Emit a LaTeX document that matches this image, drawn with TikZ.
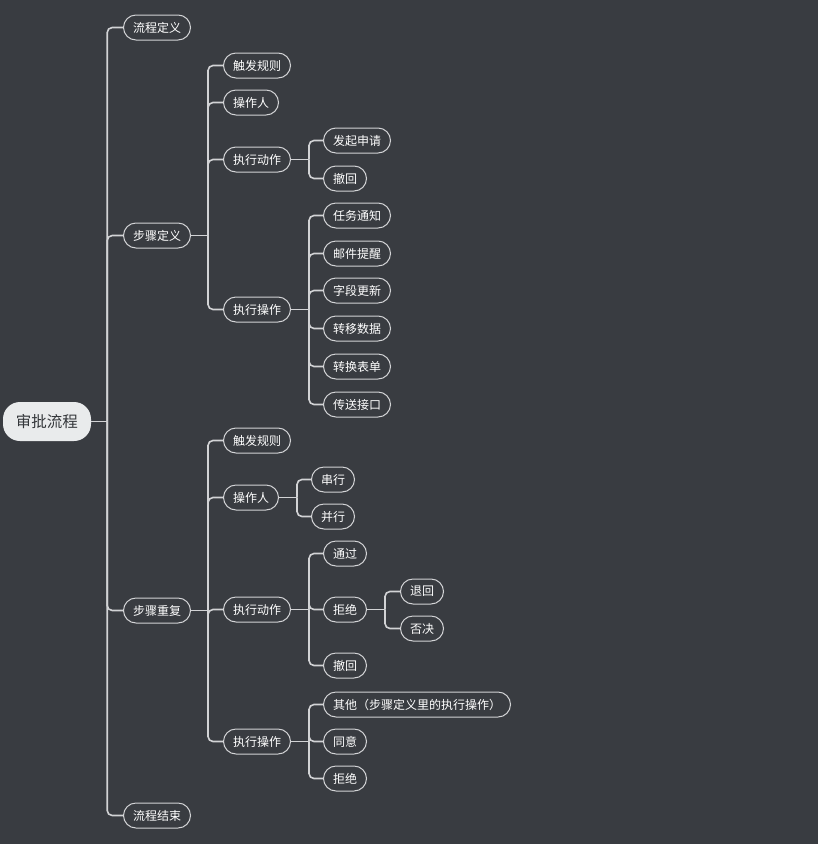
\documentclass[tikz,border=0pt]{standalone}
\usepackage{fontspec}
\setmainfont{Noto Sans CJK SC}
\usetikzlibrary{positioning}
\definecolor{bgDark}{HTML}{393C41}
\definecolor{lnGrey}{HTML}{D2D3D5}
\definecolor{rootFill}{HTML}{E9EBEC}
\definecolor{rootText}{HTML}{33363A}

\begin{document}
\begin{tikzpicture}[
    x=1pt, y=-1pt,
    root/.style={fill=rootFill, text=rootText, rounded corners=17pt,
                 minimum height=39pt, minimum width=88pt,
                 font=\fontsize{15.5}{16}\selectfont},
    topic/.style={draw=lnGrey, line width=1pt, text=white, anchor=west,
                  rounded corners=12.5pt, minimum height=25pt, inner xsep=9.5pt,
                  font=\fontsize{12}{12}\selectfont},
    conn/.style={draw=lnGrey, line width=1.6pt, rounded corners=5pt}
  ]
    \fill[bgDark] (0,0) rectangle (818,844);
    \useasboundingbox (0,0) rectangle (818,844);

    \node[root] (root) at (47,421.5) {审批流程};

    % first level
    \node[topic] (flowdef) at (123,27.5)  {流程定义};
    \node[topic] (stepdef) at (123,235.5) {步骤定义};
    \node[topic] (steprep) at (123,610.5) {步骤重复};
    \node[topic] (flowend) at (123,815.5) {流程结束};

    % step definition
    \node[topic] (sd-trig) at (223,65.5)  {触发规则};
    \node[topic] (sd-oper) at (223,102.5) {操作人};
    \node[topic] (sd-act)  at (223,159.5) {执行动作};
    \node[topic] (sd-op)   at (223,309.5) {执行操作};

    \node[topic] (sd-act-a) at (323,140.5) {发起申请};
    \node[topic] (sd-act-b) at (323,178.5) {撤回};

    \node[topic] (sd-op-a) at (323,215.5) {任务通知};
    \node[topic] (sd-op-b) at (323,253.5) {邮件提醒};
    \node[topic] (sd-op-c) at (323,290.5) {字段更新};
    \node[topic] (sd-op-d) at (323,328.5) {转移数据};
    \node[topic] (sd-op-e) at (323,366.5) {转换表单};
    \node[topic] (sd-op-f) at (323,404.5) {传送接口};

    % step repeat
    \node[topic] (sr-trig) at (223,440.5) {触发规则};
    \node[topic] (sr-oper) at (223,497.5) {操作人};
    \node[topic] (sr-act)  at (223,609.5) {执行动作};
    \node[topic] (sr-op)   at (223,741.5) {执行操作};

    \node[topic] (sr-oper-a) at (311,479.5) {串行};
    \node[topic] (sr-oper-b) at (311,516.5) {并行};

    \node[topic] (sr-act-a) at (323,553.5) {通过};
    \node[topic] (sr-act-b) at (323,609.5) {拒绝};
    \node[topic] (sr-act-c) at (323,665.5) {撤回};

    \node[topic] (sr-rej-a) at (400,591.5) {退回};
    \node[topic] (sr-rej-b) at (400,628.5) {否决};

    \node[topic] (sr-op-a) at (323,704.5) {其他（步骤定义里的执行操作）};
    \node[topic] (sr-op-b) at (323,741.5) {同意};
    \node[topic] (sr-op-c) at (323,778.5) {拒绝};

    % connectors
    \draw[conn] (root.east) -- ++(16,0) coordinate (j-root);
    \foreach \c in {flowdef,stepdef,steprep,flowend}
      \draw[conn] (j-root) |- (\c.west);

    \draw[conn] (stepdef.east) -- ++(17,0) coordinate (j-sd);
    \foreach \c in {sd-trig,sd-oper,sd-act,sd-op}
      \draw[conn] (j-sd) |- (\c.west);

    \draw[conn] (sd-act.east) -- ++(18,0) coordinate (j-sdact);
    \foreach \c in {sd-act-a,sd-act-b}
      \draw[conn] (j-sdact) |- (\c.west);

    \draw[conn] (sd-op.east) -- ++(18,0) coordinate (j-sdop);
    \foreach \c in {sd-op-a,sd-op-b,sd-op-c,sd-op-d,sd-op-e,sd-op-f}
      \draw[conn] (j-sdop) |- (\c.west);

    \draw[conn] (steprep.east) -- ++(17,0) coordinate (j-sr);
    \foreach \c in {sr-trig,sr-oper,sr-act,sr-op}
      \draw[conn] (j-sr) |- (\c.west);

    \draw[conn] (sr-oper.east) -- ++(18,0) coordinate (j-sroper);
    \foreach \c in {sr-oper-a,sr-oper-b}
      \draw[conn] (j-sroper) |- (\c.west);

    \draw[conn] (sr-act.east) -- ++(18,0) coordinate (j-sract);
    \foreach \c in {sr-act-a,sr-act-b,sr-act-c}
      \draw[conn] (j-sract) |- (\c.west);

    \draw[conn] (sr-act-b.east) -- ++(18,0) coordinate (j-srrej);
    \foreach \c in {sr-rej-a,sr-rej-b}
      \draw[conn] (j-srrej) |- (\c.west);

    \draw[conn] (sr-op.east) -- ++(18,0) coordinate (j-srop);
    \foreach \c in {sr-op-a,sr-op-b,sr-op-c}
      \draw[conn] (j-srop) |- (\c.west);
  \end{tikzpicture}
\end{document}
